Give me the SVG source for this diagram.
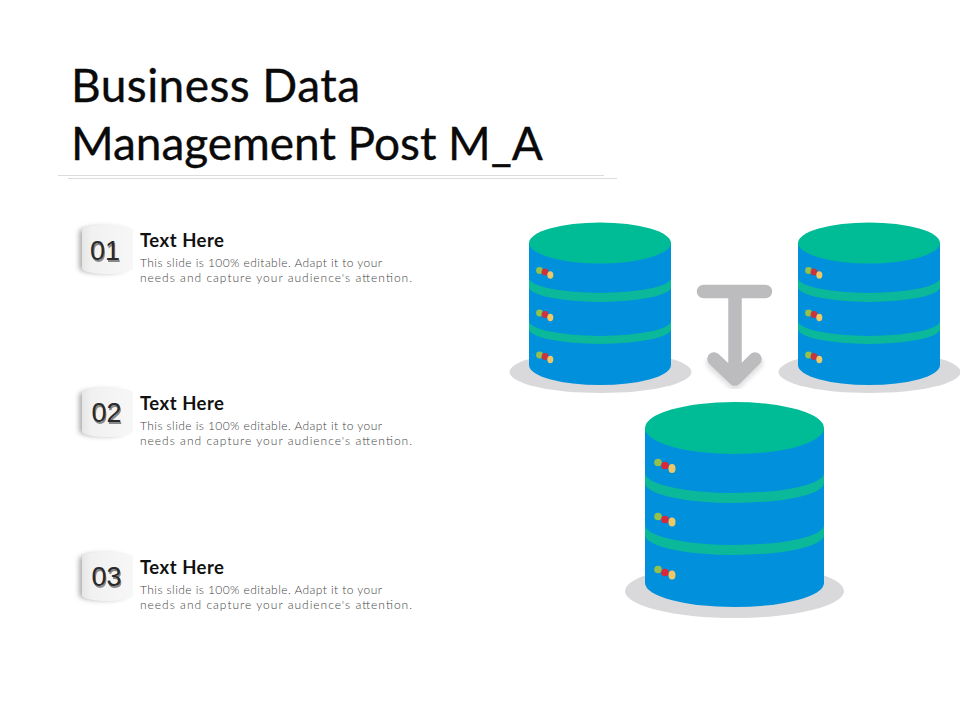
<svg xmlns="http://www.w3.org/2000/svg" width="960" height="720" viewBox="0 0 960 720">
<defs>
<linearGradient id="badge" x1="0" x2="1" y1="0" y2="0"><stop offset="0" stop-color="#e6e6e6"/><stop offset="0.18" stop-color="#f1f1f1"/><stop offset="1" stop-color="#f7f7f7"/></linearGradient>
<filter id="soft" x="-30%" y="-30%" width="160%" height="160%"><feGaussianBlur stdDeviation="2.500"/></filter>
<filter id="numshadow" x="-20%" y="-20%" width="140%" height="140%"><feGaussianBlur stdDeviation="0.700"/></filter>
<filter id="arrowsh" x="-30%" y="-30%" width="160%" height="160%"><feGaussianBlur stdDeviation="2"/></filter>
<g id="small">
<ellipse cx="71.500" cy="150" rx="91" ry="21" fill="#d9d9db"/>
<path d="M0 21V143A71 20 0 0 0 142 143V21Z" fill="#0090dc"/>
<path d="M0 56A71 15 0 0 0 142 56V65A71 15 0 0 1 0 65Z" fill="#0cb89a"/>
<path d="M0 99A71 15 0 0 0 142 99V107A71 15 0 0 1 0 107Z" fill="#0cb89a"/>
<ellipse cx="71" cy="21" rx="71" ry="20.500" fill="#00bc96"/>
<circle cx="10.500" cy="48.500" r="3.400" fill="#93c24c"/><circle cx="16" cy="50" r="3.400" fill="#c8343f"/><ellipse cx="21.300" cy="53" rx="3" ry="3.700" fill="#eec766"/>
<circle cx="10.500" cy="91" r="3.400" fill="#93c24c"/><circle cx="16" cy="92.500" r="3.400" fill="#c8343f"/><ellipse cx="21.300" cy="95.500" rx="3" ry="3.700" fill="#eec766"/>
<circle cx="10.500" cy="133" r="3.400" fill="#93c24c"/><circle cx="16" cy="134.500" r="3.400" fill="#c8343f"/><ellipse cx="21.300" cy="137.500" rx="3" ry="3.700" fill="#eec766"/>
</g>
<g id="badge-shape">
<path d="M79 8C79 1 125 1 125 8V44C125 51 79 51 79 44Z" fill="#9c9c9c" opacity="0.8" filter="url(#soft)"/>
<path d="M82 6C82 -1 133 -1 133 6V44C133 52 82 52 82 44Z" fill="url(#badge)"/>
</g>
</defs>
<style>
.title{font-family:"Lato","Liberation Sans",sans-serif;font-size:46px;fill:#0a0a0a;stroke:#0a0a0a;stroke-width:0.35px}
.head{font-family:"Lato","Liberation Sans",sans-serif;font-size:18.500px;font-weight:700;fill:#111}
.body{font-family:"Lato","Liberation Sans",sans-serif;font-size:12px;font-weight:300;fill:#444}
.num{font-family:"Liberation Sans",sans-serif;font-size:27px;text-anchor:middle;fill:#2a2a2a}
.numsh{font-family:"Liberation Sans",sans-serif;font-size:27px;text-anchor:middle;fill:#888;filter:url(#numshadow)}
</style>
<rect width="960" height="720" fill="#fff"/>
<g id="title">
<text class="title" x="71" y="101.500" textLength="289" lengthAdjust="spacing">Business Data</text>
<text class="title" x="71" y="159.500" textLength="472" lengthAdjust="spacing">Management Post M_A</text>
<line x1="58" y1="175.500" x2="604" y2="175.500" stroke="#dcdcdc"/>
<line x1="68" y1="178.500" x2="617" y2="178.500" stroke="#dcdcdc"/>
</g>
<g id="item-1">
<use href="#badge-shape" y="224"/>
<text class="numsh" x="106" y="261.500">01</text><text class="num" x="105" y="260">01</text>
<text class="head" x="140" y="247" textLength="84" lengthAdjust="spacing">Text Here</text>
<text class="body" x="140" y="267" textLength="242" lengthAdjust="spacing">This slide is 100% editable. Adapt it to your</text>
<text class="body" x="140" y="282" textLength="272" lengthAdjust="spacing">needs and capture your audience's attention.</text>
</g>
<g id="item-2">
<use href="#badge-shape" y="387"/>
<text class="numsh" x="107.500" y="423.500">02</text><text class="num" x="106.500" y="422">02</text>
<text class="head" x="140" y="410" textLength="84" lengthAdjust="spacing">Text Here</text>
<text class="body" x="140" y="430" textLength="242" lengthAdjust="spacing">This slide is 100% editable. Adapt it to your</text>
<text class="body" x="140" y="445" textLength="272" lengthAdjust="spacing">needs and capture your audience's attention.</text>
</g>
<g id="item-3">
<use href="#badge-shape" y="551"/>
<text class="numsh" x="107.500" y="587.500">03</text><text class="num" x="106.500" y="586">03</text>
<text class="head" x="140" y="574" textLength="84" lengthAdjust="spacing">Text Here</text>
<text class="body" x="140" y="594" textLength="242" lengthAdjust="spacing">This slide is 100% editable. Adapt it to your</text>
<text class="body" x="140" y="609" textLength="272" lengthAdjust="spacing">needs and capture your audience's attention.</text>
</g>
<g id="db-left"><use href="#small" x="529" y="222"/></g>
<g id="db-right"><use href="#small" x="798" y="222"/></g>
<g id="connectors">
<path d="M713 361L735 381L756 361" fill="none" stroke="#a8a8a8" stroke-width="14" stroke-linecap="round" stroke-linejoin="round" opacity="0.35" filter="url(#arrowsh)" transform="translate(0 2)"/>
<path d="M703.500 291.500H765.500M735 291.500V378M714 359L735 379L755 359" fill="none" stroke="#bcbcbe" stroke-width="13.500" stroke-linecap="round" stroke-linejoin="round"/>
</g>
<g id="db-bottom">
<ellipse cx="734.500" cy="591" rx="109.500" ry="27" fill="#d9d9db"/>
<path d="M645 428V583A89.500 24 0 0 0 824 583V428Z" fill="#0090dc"/>
<path d="M645 473A89.500 20 0 0 0 824 473V483A89.500 20 0 0 1 645 483Z" fill="#0cb89a"/>
<path d="M645 525A89.500 20 0 0 0 824 525V535A89.500 20 0 0 1 645 535Z" fill="#0cb89a"/>
<ellipse cx="734.500" cy="428" rx="89.500" ry="26" fill="#00bc96"/>
<circle cx="658" cy="462.500" r="3.800" fill="#93c24c"/><circle cx="665" cy="465.500" r="3.800" fill="#d9283c"/><ellipse cx="672" cy="468.500" rx="3.500" ry="4.500" fill="#eec766"/>
<circle cx="658" cy="516.500" r="3.800" fill="#93c24c"/><circle cx="665" cy="519.500" r="3.800" fill="#d9283c"/><ellipse cx="672" cy="522" rx="3.500" ry="4.500" fill="#eec766"/>
<circle cx="658" cy="569.500" r="3.800" fill="#93c24c"/><circle cx="665" cy="572.500" r="3.800" fill="#d9283c"/><ellipse cx="672" cy="575" rx="3.500" ry="4.500" fill="#eec766"/>
</g>
</svg>
